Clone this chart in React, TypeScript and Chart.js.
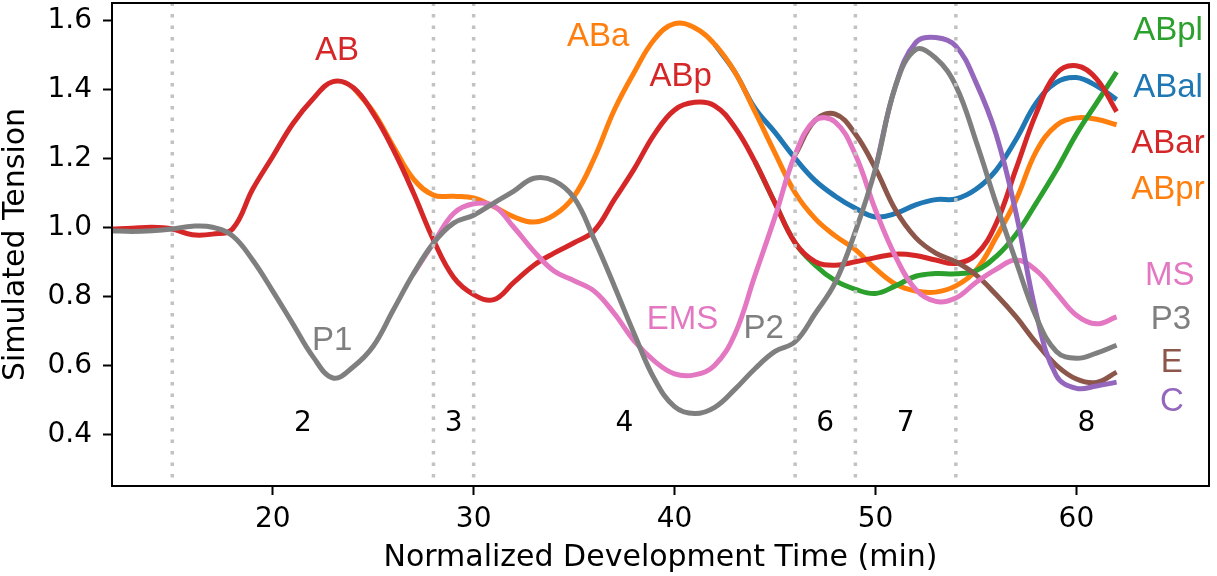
import React, { useEffect, useRef } from 'react';
import { Chart, registerables } from 'chart.js';

Chart.register(...registerables);

// ---------- data ----------
const TIMES = [12, 13, 14, 15, 16, 17, 18, 19, 20, 21, 22, 23, 24, 25, 26, 27, 28, 29, 30, 31, 32, 33, 34, 35, 36, 37, 38, 39, 40, 41, 42, 43, 44, 45, 46, 47, 48, 49, 50, 51, 52, 53, 54, 55, 56, 57, 58, 59, 60, 61, 62];

// AB -> ABp -> ABar (red)
const RED_AB_ABP_ABAR = [0.995, 0.997, 1.0, 0.995, 0.978, 0.98, 0.995, 1.11, 1.205, 1.3, 1.372, 1.422, 1.405, 1.33, 1.225, 1.1, 0.963, 0.855, 0.805, 0.79, 0.84, 0.89, 0.925, 0.955, 0.99, 1.08, 1.17, 1.27, 1.34, 1.362, 1.352, 1.29, 1.19, 1.07, 0.955, 0.9, 0.89, 0.9, 0.912, 0.922, 0.918, 0.905, 0.895, 0.92, 1.01, 1.17, 1.33, 1.445, 1.468, 1.43, 1.335];
// ABa -> ABpr (orange)
const ORANGE_ABA_ABPR = [null, null, null, null, null, null, null, null, null, null, null, null, 1.405, 1.335, 1.235, 1.14, 1.093, 1.09, 1.085, 1.06, 1.03, 1.015, 1.035, 1.09, 1.2, 1.34, 1.45, 1.545, 1.59, 1.578, 1.53, 1.45, 1.335, 1.215, 1.1, 1.025, 0.975, 0.935, 0.88, 0.835, 0.815, 0.812, 0.83, 0.875, 0.97, 1.08, 1.22, 1.295, 1.317, 1.313, 1.297];
// ABal (blue)
const BLUE_ABAL = [null, null, null, null, null, null, null, null, null, null, null, null, null, null, null, null, null, null, null, null, null, null, null, null, null, null, null, null, null, null, 1.53, 1.45, 1.345, 1.275, 1.2, 1.135, 1.09, 1.055, 1.03, 1.04, 1.065, 1.08, 1.082, 1.11, 1.165, 1.255, 1.36, 1.42, 1.434, 1.41, 1.37];
// ABpl (green)
const GREEN_ABPL = [null, null, null, null, null, null, null, null, null, null, null, null, null, null, null, null, null, null, null, null, null, null, null, null, null, null, null, null, null, null, null, null, 1.19, 1.07, 0.955, 0.89, 0.845, 0.82, 0.808, 0.83, 0.858, 0.866, 0.865, 0.874, 0.915, 0.98, 1.07, 1.165, 1.27, 1.36, 1.45];
// P1 -> P2 -> P3 (gray)
const GRAY_P1_P2_P3 = [0.99, 0.988, 0.99, 0.995, 1.003, 1.0, 0.975, 0.905, 0.815, 0.72, 0.625, 0.563, 0.595, 0.655, 0.76, 0.865, 0.954, 1.012, 1.035, 1.07, 1.105, 1.142, 1.135, 1.085, 0.965, 0.83, 0.69, 0.56, 0.48, 0.46, 0.478, 0.53, 0.59, 0.64, 0.668, 0.75, 0.84, 0.988, 1.17, 1.41, 1.515, 1.49, 1.41, 1.25, 1.07, 0.9, 0.74, 0.64, 0.62, 0.635, 0.658];
// C (purple)
const PURPLE_C = [null, null, null, null, null, null, null, null, null, null, null, null, null, null, null, null, null, null, null, null, null, null, null, null, null, null, null, null, null, null, null, null, null, null, null, null, null, null, 1.17, 1.41, 1.535, 1.55, 1.525, 1.42, 1.27, 1.04, 0.75, 0.57, 0.533, 0.54, 0.551];
// EMS -> MS (pink)
const PINK_EMS_MS = [null, null, null, null, null, null, null, null, null, null, null, null, null, null, null, 0.865, 0.954, 1.04, 1.068, 1.062, 1.0, 0.93, 0.873, 0.845, 0.815, 0.75, 0.67, 0.612, 0.575, 0.572, 0.6, 0.69, 0.86, 1.03, 1.21, 1.31, 1.305, 1.21, 1.05, 0.915, 0.82, 0.785, 0.795, 0.84, 0.878, 0.905, 0.875, 0.81, 0.745, 0.72, 0.74];
// E (brown)
const BROWN_E = [null, null, null, null, null, null, null, null, null, null, null, null, null, null, null, null, null, null, null, null, null, null, null, null, null, null, null, null, null, null, null, null, null, null, 1.21, 1.31, 1.328, 1.27, 1.17, 1.05, 0.97, 0.925, 0.9, 0.862, 0.805, 0.74, 0.665, 0.6, 0.56, 0.55, 0.58];

const STAGE_BOUNDS = [15, 28, 30, 46, 49, 54];
const STAGE_NAMES = ['2', '3', '4', '6', '7', '8'];
const STAGE_NAME_X = [21.5, 29, 37.5, 47.5, 51.5, 60.5];
const STAGE_NAME_Y = 0.43;

const X_TICKS = [20, 30, 40, 50, 60];
const Y_TICKS = [0.4, 0.6, 0.8, 1.0, 1.2, 1.4, 1.6];

// ---------- styles ----------
const C_BLUE = '#1f77b4';
const C_ORANGE = '#ff7f0e';
const C_GREEN = '#2ca02c';
const C_RED = '#d62728';
const C_PURPLE = '#9467bd';
const C_BROWN = '#8c564b';
const C_PINK = '#e377c2';
const C_GRAY = '#7f7f7f';

const SERIES_LABELS = [
  { text: 'AB', x: 23.2, y: 1.51, color: C_RED },
  { text: 'ABa', x: 36.2, y: 1.553, color: C_ORANGE },
  { text: 'ABp', x: 40.3, y: 1.435, color: C_RED },
  { text: 'P1', x: 22.96, y: 0.67, color: C_GRAY },
  { text: 'EMS', x: 40.4, y: 0.731, color: C_PINK },
  { text: 'P2', x: 44.43, y: 0.705, color: C_GRAY },
  { text: 'ABpl', x: 64.56, y: 1.569, color: C_GREEN },
  { text: 'ABal', x: 64.56, y: 1.405, color: C_BLUE },
  { text: 'ABar', x: 64.56, y: 1.242, color: C_RED },
  { text: 'ABpr', x: 64.56, y: 1.108, color: C_ORANGE },
  { text: 'MS', x: 64.65, y: 0.858, color: C_PINK },
  { text: 'P3', x: 64.7, y: 0.731, color: C_GRAY },
  { text: 'E', x: 64.75, y: 0.606, color: C_BROWN },
  { text: 'C', x: 64.75, y: 0.493, color: C_PURPLE },
];

const TICK_FONT = { family: 'DejaVu Sans', size: 28 };
const TITLE_FONT = { family: 'DejaVu Sans', size: 30, lineHeight: 1.1 };

function series(vals: (number | null)[]) {
  return TIMES.map((t, i) => ({ x: t, y: vals[i] }));
}

const annotPlugin = {
  id: 'annot',
  afterDatasetsDraw(chart: any) {
    const { ctx, chartArea, scales } = chart;
    const xs = scales.x;
    const ys = scales.y;
    ctx.save();
    ctx.strokeStyle = '#000';
    ctx.lineWidth = 2;
    ctx.strokeRect(chartArea.left, chartArea.top, chartArea.right - chartArea.left, chartArea.bottom - chartArea.top);
    ctx.textAlign = 'center';
    ctx.textBaseline = 'middle';
    ctx.font = '33px "Liberation Sans", Arial, sans-serif';
    for (const l of SERIES_LABELS) {
      ctx.fillStyle = l.color;
      ctx.fillText(l.text, xs.getPixelForValue(l.x), ys.getPixelForValue(l.y));
    }
    ctx.font = '28px "DejaVu Sans"';
    ctx.fillStyle = '#000';
    STAGE_NAMES.forEach((t, i) => {
      ctx.fillText(t, xs.getPixelForValue(STAGE_NAME_X[i]), ys.getPixelForValue(STAGE_NAME_Y));
    });
    ctx.restore();
  },
};

export default function App() {
  const ref = useRef<HTMLCanvasElement | null>(null);
  useEffect(() => {
    if (!ref.current) return;
    const lineDs = (label: string, vals: (number | null)[], color: string) => ({
      label,
      data: series(vals),
      borderColor: color,
      backgroundColor: color,
      borderWidth: 5,
      pointRadius: 0,
      tension: 0.4,
      borderJoinStyle: 'round' as const,
      borderCapStyle: 'butt' as const,
      fill: false,
    });
    const stageDs = STAGE_BOUNDS.map((b) => ({
      label: 'stage ' + b,
      data: [
        { x: b, y: 0.275 },
        { x: b, y: 1.65 },
      ],
      borderColor: '#c2c2c2',
      borderWidth: 3.5,
      borderDash: [3.5, 8],
      borderCapStyle: 'butt' as const,
      pointRadius: 0,
      tension: 0,
      fill: false,
    }));
    const chart = new Chart(ref.current, {
      type: 'line',
      data: {
        datasets: [
          ...stageDs,
          lineDs('P1/P2/P3', GRAY_P1_P2_P3, C_GRAY),
          lineDs('C', PURPLE_C, C_PURPLE),
          lineDs('EMS/MS', PINK_EMS_MS, C_PINK),
          lineDs('E', BROWN_E, C_BROWN),
          lineDs('AB/ABp/ABar', RED_AB_ABP_ABAR, C_RED),
          lineDs('ABpl', GREEN_ABPL, C_GREEN),
          lineDs('ABa/ABpr', ORANGE_ABA_ABPR, C_ORANGE),
          lineDs('ABal', BLUE_ABAL, C_BLUE),
        ],
      },
      options: {
        animation: false,
        responsive: true,
        maintainAspectRatio: false,
        devicePixelRatio: 1,
        layout: { padding: { left: 0, right: 8, top: 3, bottom: 0 } },
        plugins: { legend: { display: false }, tooltip: { enabled: false } },
        scales: {
          x: {
            type: 'linear',
            min: 12,
            max: 66.6,
            afterBuildTicks: (s: any) => {
              s.ticks = X_TICKS.map((v) => ({ value: v }));
            },
            afterFit: (s: any) => {
              s.height = 90;
              s.paddingLeft = 0;
              s.paddingRight = 0;
            },
            ticks: {
              autoSkip: false,
              maxRotation: 0,
              padding: 8,
              color: '#000',
              font: TICK_FONT,
              callback: (v: any) => String(v),
            },
            grid: { display: true, drawOnChartArea: false, drawTicks: true, tickLength: 9, tickWidth: 2, tickColor: '#000' },
            border: { display: false },
            title: {
              display: true,
              text: 'Normalized Development Time (min)',
              color: '#000',
              font: TITLE_FONT,
              padding: { top: 0, bottom: 1 },
            },
          },
          y: {
            type: 'linear',
            min: 0.25,
            max: 1.65,
            afterBuildTicks: (s: any) => {
              s.ticks = Y_TICKS.map((v) => ({ value: v }));
            },
            afterFit: (s: any) => {
              s.width = 112;
              s.paddingTop = 0;
              s.paddingBottom = 0;
            },
            ticks: {
              autoSkip: false,
              padding: 11,
              color: '#000',
              font: TICK_FONT,
              callback: (v: any) => Number(v).toFixed(1),
            },
            grid: { display: true, drawOnChartArea: false, drawTicks: true, tickLength: 9, tickWidth: 2, tickColor: '#000' },
            border: { display: false },
            title: {
              display: true,
              text: 'Simulated Tension',
              color: '#000',
              font: TITLE_FONT,
              padding: { top: 0, bottom: 0 },
            },
          },
        },
      },
      plugins: [annotPlugin],
    });
    return () => chart.destroy();
  }, []);

  return (
    <div style={{ position: 'absolute', left: 0, top: 0, width: 1217, height: 576, background: '#fff' }}>
      <canvas ref={ref} />
    </div>
  );
}
